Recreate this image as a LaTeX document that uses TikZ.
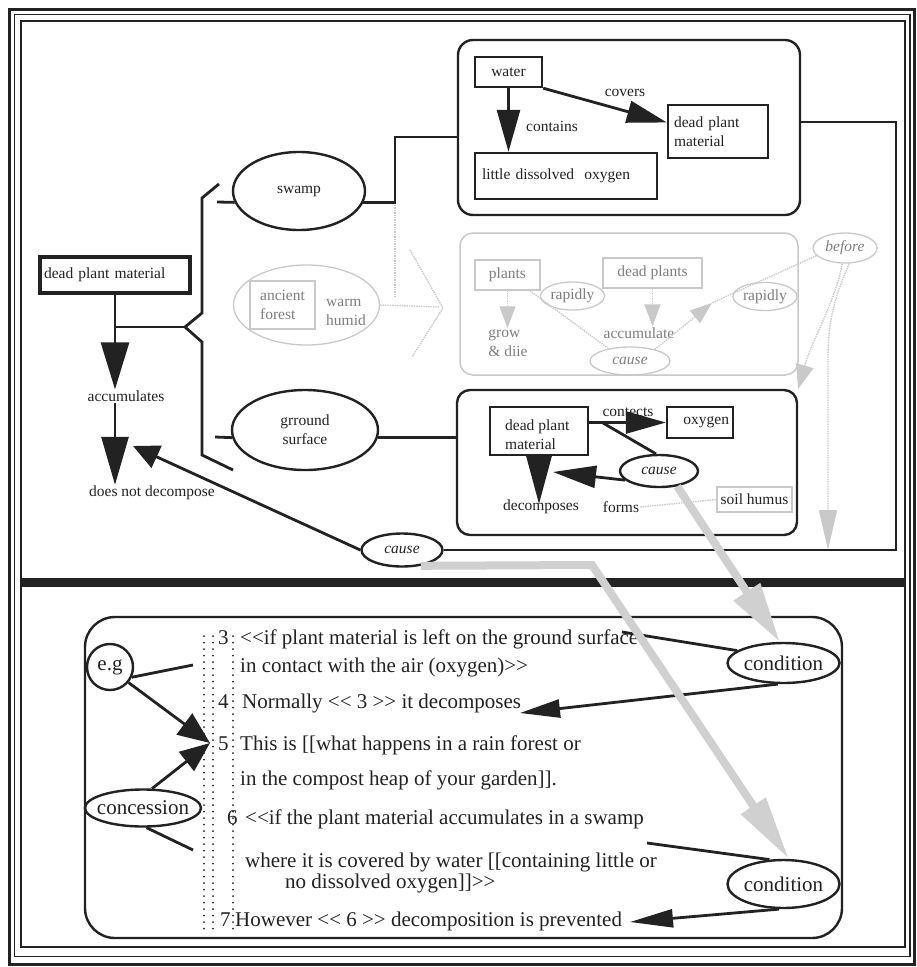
\documentclass[tikz,border=0pt]{standalone}
\usepackage{fontspec}
\setmainfont{Liberation Serif}[Ligatures=TeXOff]
\usetikzlibrary{arrows.meta,shapes.geometric}

\definecolor{ink}{HTML}{222222}
\definecolor{faint}{HTML}{C9C9C9}
\definecolor{fainttext}{HTML}{7E7E7E}
\definecolor{ghost}{HTML}{D0D0D0}

\newcommand\diagfont{\fontsize{15.5}{19}\selectfont}
\newcommand\prosefont{\fontsize{21}{25}\selectfont}

\begin{document}
\begin{tikzpicture}[x=1pt, y=-1pt,
  link/.style={draw=ink, line width=2.8pt},
  box/.style={draw=ink, line width=2.4pt, rectangle, inner sep=0pt, text=ink, font=\diagfont},
  oval/.style={draw=ink, line width=2.4pt, ellipse, inner sep=0pt, text=ink, font=\diagfont},
  ah/.style 2 args={-{Triangle[length=#1pt,width=#2pt]}},
  lbl/.style={font=\diagfont, text=ink, inner sep=1pt},
  prose/.style={font=\prosefont, text=ink, inner sep=0pt, anchor=base west},
  plabel/.style={font=\prosefont, text=ink},
  gbox/.style={draw=faint, line width=1.3pt, rectangle, inner sep=0pt, font=\diagfont, text=fainttext},
  goval/.style={draw=faint, line width=1.3pt, ellipse, inner sep=0pt, font=\diagfont, text=fainttext},
  gtext/.style={font=\diagfont, text=fainttext, inner sep=1pt},
  gline/.style={draw=faint, line width=1.4pt, densely dotted},
  band/.style={draw=ghost, line width=8pt},
]
\useasboundingbox (0,0) rectangle (917,967);
\fill[white] (0,0) rectangle (917,967);

% page frame and divider
\draw[ink, line width=3pt] (9,9.5) rectangle (914.5,964);
\draw[ink, line width=1.8pt] (14.5,14.5) rectangle (910,956.5);
\draw[ink, line width=2pt] (21,21) rectangle (905,946.5);
\draw[ink, line width=9pt] (21,582) -- (905,582);

% ---------- faded middle situation ----------
\node[draw=faint, line width=1.5pt, rounded corners=13pt, minimum width=338pt, minimum height=142pt] (gpanel) at (629,304) {};
\node[gbox, minimum width=65pt, minimum height=30pt] (plants) at (507.5,275) {plants};
\node[gbox, minimum width=99pt, minimum height=30pt] (deadplants) at (652.5,273) {dead plants};
\node[goval, minimum width=64pt, minimum height=28pt] (rap1) at (572.5,296) {rapidly};
\node[goval, minimum width=64pt, minimum height=28pt] (rap2) at (765,296.5) {rapidly};
\node[goval, minimum width=64pt, minimum height=30pt, font=\diagfont\itshape] (before) at (845,248) {before};
\node[gtext, align=left] (grow) at (508,343) {grow\\\& diie};
\node[gtext] (accum) at (639,333) {accumulate};
\node[goval, minimum width=80pt, minimum height=28pt, font=\diagfont\itshape] (causeC) at (630,361) {cause};
\coordinate (gmeet) at (712,303);
\draw[gline, ah={22}{16}] (plants.south) -- (grow.north -| plants.south);
\draw[gline, ah={22}{16}] (deadplants.south) -- (accum.north -| deadplants.south);
\draw[gline] (plants.-35) -- (causeC.150);
\draw[gline, ah={22}{16}] (causeC.25) -- (gmeet);
\draw[gline] (before.195) -- (gmeet);

\node[goval, minimum width=146pt, minimum height=80pt] (ancient) at (306.5,305) {};
\node[gbox, minimum width=65pt, minimum height=48pt, align=left] (forest) at (282.5,305) {ancient\\forest};
\node[gtext, align=left] (warm) at (346,312) {warm\\humid};
\coordinate (gv1) at (395,205);
\coordinate (gv2) at (395,297);
\coordinate (gh) at (440,307);
\coordinate (gc1) at (410,250);
\coordinate (gc2) at (443,308);
\coordinate (gc3) at (412,357);
\draw[gline] (gv1) -- (gv2);
\draw[gline] (ancient.east) -- (gh);
\draw[gline] (gc1) -- (gc2) -- (gc3);

% ---------- left: dead plant material ----------
\node[box, line width=4.5pt, minimum width=150pt, minimum height=36pt, text width=142pt, align=left] (dpm) at (115,275) {dead plant material};
\node[lbl] (acc) at (126,396) {accumulates};
\node[lbl] (dnd) at (152,493) {does not decompose};
\coordinate (btip) at (185,327);
\draw[link, ah={47}{28}] (dpm.south) -- (dpm.south |- acc.north);
\draw[link, ah={48}{27}] (dpm.south |- acc.south) -- (dpm.south |- dnd.north);
\draw[link] (dpm.south |- btip) -- (btip);
\coordinate (br1) at (219,184);
\coordinate (br2) at (202,198);
\coordinate (br3) at (202,313);
\coordinate (br4) at (202,342);
\coordinate (br5) at (202,455);
\coordinate (br6) at (233,470);
\draw[link] (br1) -- (br2) -- (br3) -- (btip) -- (br4) -- (br5) -- (br6);

% ---------- swamp situation ----------
\node[oval, minimum width=132pt, minimum height=78pt] (swamp) at (299,191) {swamp};
\coordinate (swl) at (217,202);
\draw[link] (swl) -- (swamp.190);
\node[box, rounded corners=15pt, minimum width=342pt, minimum height=175pt] (swampbox) at (629,127.5) {};
\coordinate (swj) at (395,137);
\draw[link] (swamp.-10) -| (swj) -- (swampbox.west |- swj);

\node[box, minimum width=67pt, minimum height=30pt] (water) at (508.5,72) {water};
\node[box, minimum width=100pt, minimum height=53pt, text width=88pt, align=left] (dpm2) at (718,131.5) {dead plant\\material};
\node[box, minimum width=182pt, minimum height=46pt, text width=168pt, align=left] (ldo) at (566,176) {little dissolved\ \ oxygen};
\node[lbl] (covers) at (625,93) {covers};
\node[lbl] (contains) at (552,126) {contains};
\draw[link, ah={42}{23}] (water.south) -- (ldo.north -| water.south);
\draw[link, ah={40}{22}] (water.south east) -- (dpm2.170);

% ---------- ground surface situation ----------
\node[oval, minimum width=146pt, minimum height=80pt, align=center] (ground) at (305,430) {grround\\surface};
\coordinate (gl) at (215,437);
\draw[link] (gl) -- (ground.186);
\node[box, rounded corners=13pt, minimum width=340pt, minimum height=145pt] (groundbox) at (627,462.5) {};
\draw[link] (ground.-6) -- (groundbox.west |- ground.-6);

\node[box, minimum width=98pt, minimum height=48pt] (dpm3) at (539,431) {};
\node[lbl, align=left, anchor=north west, inner sep=0pt] (dpm3t) at (505,420) {dead plant\\material};
\node[box, minimum width=66pt, minimum height=31pt, text width=58pt, align=right] (oxy) at (700,422.5) {oxygen};
\node[lbl] (contects) at (628,412) {contects};
\draw[link, ah={40}{22}] (dpm3.east |- oxy.west) -- (oxy.west);
\coordinate (cj) at (603,423);
\node[oval, minimum width=78pt, minimum height=32pt, font=\diagfont\itshape] (causeB) at (659,471) {cause};
\draw[link] (cj) -- (causeB.100);
\coordinate (cbtip) at (553,472);
\draw[link, ah={43}{22}] (causeB.195) -- (cbtip);
\node[lbl] (decomp) at (541,507) {decomposes};
\node[lbl] (forms) at (621,507) {forms};
\coordinate (dtip) at (539,504);
\draw[link, ah={48}{25}] (dpm3.south) -- (dtip);
\node[gbox, minimum width=75pt, minimum height=25pt, text=ink] (soil) at (754.5,499.5) {soil humus};
\draw[gline] (forms.east) -- (soil.west);

% faded links from 'before'
\draw[gline, ah={24}{18}] (before.-100) .. controls (836,300) and (812,340) .. (groundbox.north east);
\coordinate (bdown) at (828,550);
\draw[gline, ah={40}{18}] (before.-75) .. controls (834,300) and (828,320) .. (828,360) -- (bdown);

% ---------- cause linking both situations ----------
\node[oval, minimum width=81pt, minimum height=33pt, font=\diagfont\itshape] (causeA) at (402,550) {cause};
\coordinate (rc) at (896,122);
\draw[link] (swampbox.east |- rc) -- (rc) |- (causeA.east);
\coordinate (dndin) at (133,446);
\draw[link, ah={26}{24}] (causeA.west) -- (dndin);

% ---------- text panel ----------
\node[box, rounded corners=30pt, minimum width=757pt, minimum height=321pt] (bbox) at (463.5,777.5) {};
\foreach \cx in {204,213,233}
  \draw[ink, line width=2pt, line cap=round, dash pattern=on 0pt off 6.5pt] (\cx,636) -- (\cx,930);

\node[prose] (n3) at (218,644) {3};
\node[prose] (t3a) at (240,644) {<<if plant material is left on the ground surface};
\node[prose] (t3b) at (240,672) {in contact with the air (oxygen)>>};
\node[prose] (n4) at (218,708) {4};
\node[prose] (t4) at (242,708) {Normally << 3 >> it decomposes};
\node[prose] (n5) at (218,750) {5};
\node[prose] (t5a) at (240,750) {This is [[what happens in a rain forest or};
\node[prose] (t5b) at (240,785) {in the compost heap of your garden]].};
\node[prose] (n6) at (227,824) {6};
\node[prose] (t6a) at (245,824) {<<if the plant material accumulates in a swamp};
\node[prose] (t6b) at (245,867) {where it is covered by water [[containing little or};
\node[prose] (t6c) at (285,888) {no dissolved oxygen]]>>};
\node[prose] (n7) at (220,926) {7};
\node[prose] (t7) at (235,926) {However << 6 >> decomposition is prevented};

\node[circle, draw=ink, line width=2.4pt, minimum size=46pt, inner sep=0pt, font=\prosefont, text=ink] (eg) at (110,667) {e.g};
\node[oval, minimum width=116pt, minimum height=37pt, label={[plabel]center:concession}] (conc) at (143,808) {};
\node[oval, minimum width=112pt, minimum height=40pt, label={[plabel]center:condition}] (cond1) at (783.5,663) {};
\node[oval, minimum width=112pt, minimum height=48pt, label={[plabel]center:condition}] (cond2) at (783.5,884) {};

\coordinate (egend) at (193,665);
\coordinate (five) at (210,743);
\coordinate (concend) at (193,850);
\draw[link] (eg.-25) -- (egend);
\draw[link, ah={32}{26}] (eg.-40) -- (five);
\draw[link, ah={30}{24}] (conc.65) -- (five);
\draw[link] (conc.-80) -- (concend);

\coordinate (s1) at (622,632);
\coordinate (d1) at (520,713);
\coordinate (s2) at (647,843);
\coordinate (p2) at (630,922);
\draw[link] (cond1.165) -- (s1);
\draw[link, ah={40}{18}] (cond1.-105) -- (d1);
\draw[link] (cond2.120) -- (s2);
\draw[link, ah={43}{18}] (cond2.-100) -- (p2);

% ---------- faded correspondence arrows ----------
\coordinate (gbend) at (592,565);
\draw[band, ah={64}{28}] (causeA.-40) -- (gbend) -- (cond2.78);
\draw[band, ah={60}{30}] (causeB.-40) -- (cond1.100);
\end{tikzpicture}
\end{document}
